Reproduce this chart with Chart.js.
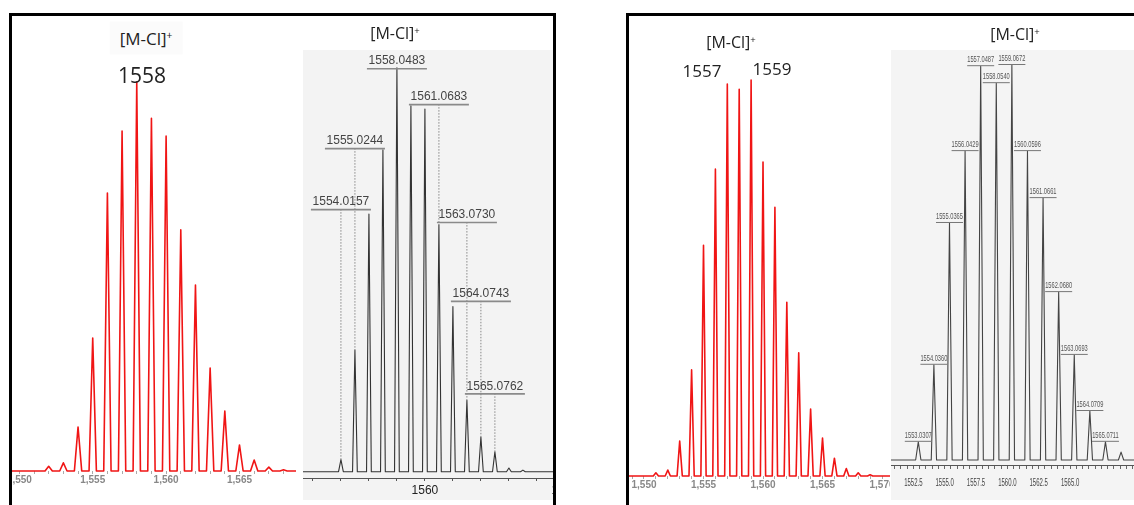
<!DOCTYPE html>
<html><head><meta charset="utf-8">
<script src="https://cdn.jsdelivr.net/npm/chart.js@4.4.1/dist/chart.umd.min.js"></script>
<style>
html,body{margin:0;padding:0;background:#fff;width:1134px;height:505px;overflow:hidden;position:relative;font-family:'Open Sans',sans-serif}
.box{position:absolute;border:3px solid #000;border-bottom:none;box-sizing:border-box;pointer-events:none;z-index:5}
.panel{position:absolute;overflow:hidden}
.lbl{position:absolute;transform:translate(-50%,-50%);white-space:nowrap;color:#222;line-height:1;z-index:6}
.lbl sup{font-size:60%;vertical-align:0.55em;line-height:0}
canvas{display:block}
</style></head><body>

<div class="panel" id="pA" style="left:12px;top:51px;width:284px;height:450px"><canvas id="cA" width="284" height="450"></canvas></div>
<div class="panel" id="pB" style="left:303px;top:50px;width:250px;height:450px;background:#f3f3f3"><canvas id="cB" width="270" height="450"></canvas></div>
<div class="panel" id="pC" style="left:629px;top:50px;width:261px;height:450px"><canvas id="cC" width="261" height="450"></canvas></div>
<div class="panel" id="pD" style="left:891px;top:50px;width:243px;height:450px;background:#f4f4f4"><canvas id="cD" width="243" height="450"></canvas></div>

<div class="box" style="left:9px;top:13px;width:547px;height:500px"></div>
<div class="box" style="left:626px;top:13px;width:520px;height:500px"></div>

<div class="lbl" style="left:146px;top:38px;font-size:17px;background:#fbfbfb;padding:8px 10px">[M-Cl]<sup>+</sup></div>
<div class="lbl" style="left:142px;top:75px;font-size:21px">1558</div>
<div class="lbl" style="left:395px;top:33px;font-size:16px">[M-Cl]<sup>+</sup></div>
<div class="lbl" style="left:731px;top:42px;font-size:16px">[M-Cl]<sup>+</sup></div>
<div class="lbl" style="left:702px;top:70px;font-size:17px">1557</div>
<div class="lbl" style="left:772px;top:68px;font-size:17px">1559</div>
<div class="lbl" style="left:1015px;top:34px;font-size:16px">[M-Cl]<sup>+</sup></div>

<script>
// ---- data ----
const redLeftMz  = [1552,1553,1554,1555,1556,1557,1558,1559,1560,1561,1562,1563,1564,1565,1566,1567,1568];
const redLeftInt = [1.2,2.1,11.3,34.2,71.5,87.4,100,90.7,86.1,62.0,47.8,26.5,15.4,6.7,2.8,1.0,0.3];

const expLeftMz  = [1554,1555,1556,1557,1558,1559,1560,1561,1562,1563,1564,1565,1566,1567];
const expLeftInt = [3.0,30.1,63.8,79.7,100,90.6,89.8,61.1,40.9,17.7,8.6,4.9,0.9,0.4];
const expLeftLabels   = ['1554.0157','1555.0244','1558.0483','1561.0683','1563.0730','1564.0743','1565.0762'];
const expLeftLabelMz  = [1554,1555,1558,1561,1563,1564,1565];
const expLeftLabelInt = [65.0,80.1,99.9,91.0,61.8,42.3,19.4];

const redRightMz  = [1551,1552,1553,1554,1555,1556,1557,1558,1559,1560,1561,1562,1563,1564,1565,1566,1567,1568,1569];
const redRightInt = [0.8,1.5,8.8,26.8,58.3,77.5,99.0,97.7,100,79.3,67.9,43.9,31.1,16.9,9.6,4.5,1.9,0.8,0.3];

const expRightMz  = [1553,1554,1555,1556,1557,1558,1559,1560,1561,1562,1563,1564,1565,1566];
const expRightInt = [4.6,24.1,60.0,78.2,99.7,95.4,100,78.2,66.3,42.5,26.6,12.4,4.6,2.0];
const expRightLabels = ['1553.0307','1554.0360','1555.0365','1556.0429','1557.0487','1558.0540','1559.0672',
                        '1560.0596','1561.0661','1562.0680','1563.0693','1564.0709','1565.0711'];

// ---- helpers ----
function profile(mz, ints, hw, xmin, xmax){
  const pts=[{x:xmin,y:0}];
  mz.forEach((m,i)=>{pts.push({x:m-hw,y:0});pts.push({x:m,y:ints[i]});pts.push({x:m+hw,y:0});});
  pts.push({x:xmax,y:0});
  return pts;
}
function fixAxis(h){return s=>{s.height=h;s.paddingLeft=0;s.paddingRight=0;s.paddingTop=0;s.paddingBottom=0;};}
const base = {responsive:false,animation:false,devicePixelRatio:1,
  layout:{padding:0,autoPadding:false},
  plugins:{legend:{display:false},tooltip:{enabled:false},title:{display:false}},
  elements:{point:{radius:0},line:{tension:0,borderJoinStyle:'round'}}};
function opts(extra){return Object.assign({},base,extra);}

// ---- A: left simulated ----
new Chart(document.getElementById('cA'),{type:'line',
  data:{datasets:[{data:profile(redLeftMz,redLeftInt,0.25,1549.5,1568.85),borderColor:'#f01515',borderWidth:1.6,clip:false}]},
  options:opts({scales:{
    x:{type:'linear',min:1549.5,max:1568.85,afterFit:fixAxis(30),
       border:{display:false},grid:{drawOnChartArea:false,drawTicks:true,tickLength:3,color:'#aaa'},
       ticks:{stepSize:1,autoSkip:false,maxRotation:0,includeBounds:false,padding:0,color:'#888',
              font:{family:'Liberation Sans',size:10,weight:'bold'},
              callback:v=>v%5===0?v.toLocaleString('en-US'):''}},
    y:{display:false,min:0,max:108}}})});

// ---- B: left experimental ----
const labelPluginB={id:'lblB',afterDatasetsDraw(ch){
  const c=ch.ctx,xs=ch.scales.x,ys=ch.scales.y;c.save();
  expLeftLabels.forEach((t,i)=>{
    const m=expLeftLabelMz[i];const x=xs.getPixelForValue(m);const y=ys.getPixelForValue(expLeftLabelInt[i]);
    const pk=expLeftInt[expLeftMz.indexOf(m)];const yp=ys.getPixelForValue(pk);
    c.strokeStyle='#888';c.lineWidth=1;c.setLineDash([1.5,1.5]);
    c.beginPath();c.moveTo(x,y);c.lineTo(x,yp);c.stroke();
    c.setLineDash([]);c.lineWidth=1.6;c.strokeStyle='#8a8a8a';
    c.beginPath();c.moveTo(x-30,y+0.5);c.lineTo(x+30,y+0.5);c.stroke();
    c.fillStyle='#444';c.font='12px "Liberation Sans"';c.textAlign='center';c.textBaseline='bottom';
    c.fillText(t,x,y-1);
  });c.restore();}};
new Chart(document.getElementById('cB'),{type:'line',
  data:{datasets:[{data:profile(expLeftMz,expLeftInt,0.17,1551.29,1570.58),borderColor:'#333',borderWidth:1.1}]},
  options:opts({scales:{
    x:{type:'linear',min:1551.29,max:1570.58,afterFit:fixAxis(22),
       border:{display:true,color:'#555',width:1},grid:{drawOnChartArea:false,drawTicks:true,tickLength:3,color:'#555'},
       ticks:{stepSize:2,autoSkip:false,maxRotation:0,includeBounds:false,padding:2,color:'#222',
              font:{family:'Liberation Sans',size:12},callback:v=>v%10===0?String(v):''}},
    y:{display:false,min:-1.56,max:104.4}}}),plugins:[labelPluginB]});

// ---- C: right simulated ----
new Chart(document.getElementById('cC'),{type:'line',
  data:{datasets:[{data:profile(redRightMz,redRightInt,0.22,1548.74,1570.67),borderColor:'#f01515',borderWidth:1.6,clip:false}]},
  options:opts({scales:{
    x:{type:'linear',min:1548.74,max:1570.67,afterFit:fixAxis(24),
       border:{display:false},grid:{drawOnChartArea:false,drawTicks:true,tickLength:3,color:'#aaa'},
       ticks:{stepSize:1,autoSkip:false,maxRotation:0,includeBounds:false,padding:0,color:'#888',
              font:{family:'Liberation Sans',size:10,weight:'bold'},
              callback:v=>v%5===0?v.toLocaleString('en-US'):''}},
    y:{display:false,min:0,max:107.6}}})});

// ---- D: right experimental ----
const labelPluginD={id:'lblD',afterDatasetsDraw(ch){
  const c=ch.ctx,xs=ch.scales.x,ys=ch.scales.y,x2=ch.scales.x2;c.save();
  c.font='9.5px "Liberation Sans"';c.textAlign='center';c.textBaseline='bottom';
  expRightLabels.forEach((t,i)=>{
    const x=xs.getPixelForValue(expRightMz[i]);const y=ys.getPixelForValue(expRightInt[i]);
    c.strokeStyle='#777';c.lineWidth=1;c.beginPath();c.moveTo(x-13.5,y-0.5);c.lineTo(x+13.5,y-0.5);c.stroke();
    c.save();c.translate(x,y-2);c.scale(0.6,1);c.fillStyle='#555';c.fillText(t,0,0);c.restore();
  });
  c.textBaseline='middle';c.font='10px "Liberation Sans"';
  x2.ticks.forEach(tk=>{
    if(tk.value<=1565 && Math.abs(tk.value/2.5-Math.round(tk.value/2.5))<1e-6){
      const x=x2.getPixelForValue(tk.value);
      c.save();c.translate(x,ch.chartArea.bottom+18);c.scale(0.6,1);c.fillStyle='#444';c.fillText(tk.value.toFixed(1),0,0);c.restore();
    }});
  c.restore();}};
new Chart(document.getElementById('cD'),{type:'line',
  data:{datasets:[{data:profile(expRightMz,expRightInt,0.17,1551.25,1566.83),borderColor:'#444',borderWidth:1.1,xAxisID:'x'}]},
  options:opts({scales:{
    x:{type:'linear',display:false,min:1551.25,max:1566.83},
    x2:{type:'linear',position:'bottom',min:1550.72,max:1570.1,afterFit:fixAxis(35),
       border:{display:true,color:'#555',width:1},grid:{drawOnChartArea:false,drawTicks:true,tickLength:4,color:'#666'},
       ticks:{display:false,stepSize:0.5,autoSkip:false,includeBounds:false}},
    y:{display:false,min:-1.27,max:103.8}}}),plugins:[labelPluginD]});
</script>
</body></html>
